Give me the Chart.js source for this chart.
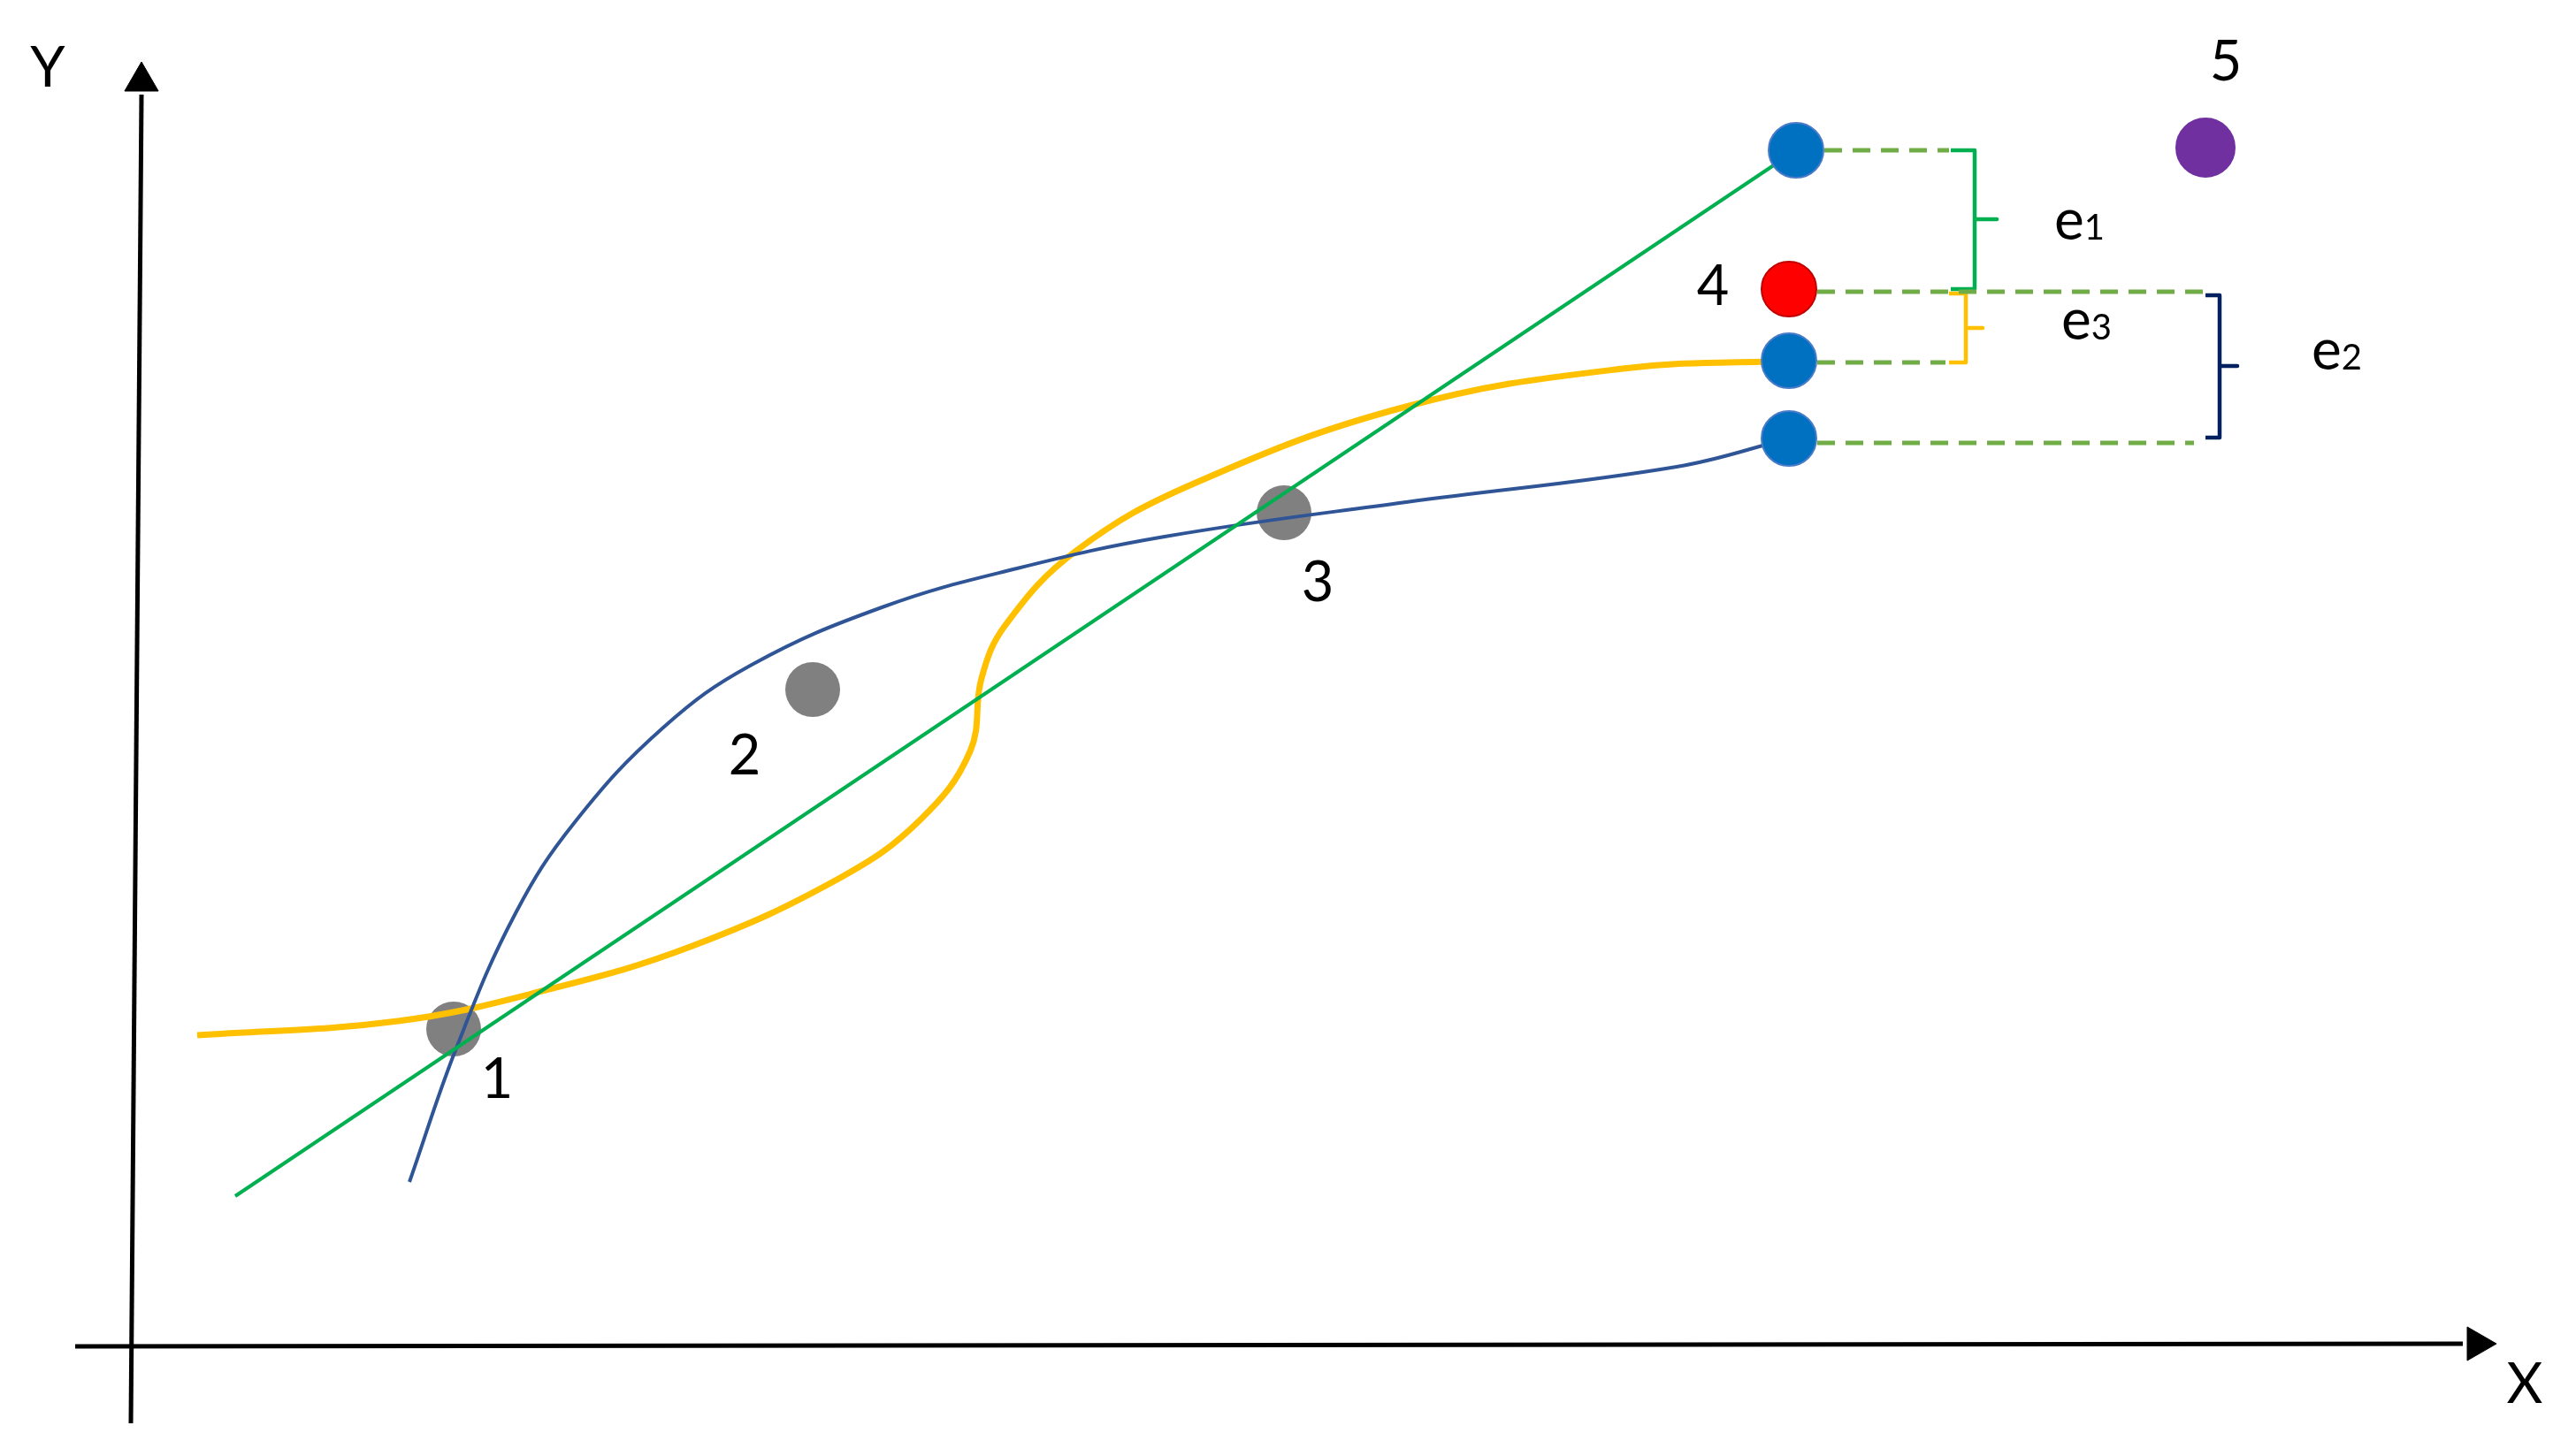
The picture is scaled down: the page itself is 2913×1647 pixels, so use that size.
<!DOCTYPE html>
<html>
<head>
<meta charset="utf-8">
<style>
  html, body { margin: 0; padding: 0; background: #fff; }
  #wrap { width: 2913px; height: 1647px; position: relative; }
</style>
<script src="https://cdn.jsdelivr.net/npm/chart.js@4.4.1/dist/chart.umd.min.js"></script>
</head>
<body>
<div id="wrap"><canvas id="chart"></canvas></div>
<script>
// Observed points 1, 2, 3
const obsX = [36.4, 77.0, 130.3];
const obsY = [35.8, 74.2, 94.2];

// Straight-line fit (green)
const lineX = [11.7, 188.2];
const lineY = [16.9, 135.2];

// Blue fitted curve
const blueX = [31.4, 36.8, 43.4, 50.1, 60.1, 70.1, 85.1, 100.1, 116.8, 144.1, 174.7, 187.4];
const blueY = [18.5, 33.9, 48.9, 59.2, 69.9, 77.0, 83.6, 87.9, 91.5, 95.4, 99.4, 102.6];

// Yellow fitted curve
const yellowX = [7.4, 30.1, 46.8, 63.4, 80.1, 89.1, 94.8, 96.1, 98.8, 106.8, 120.1, 144.1, 168.6, 187.4];
const yellowY = [35.1, 36.7, 40.2, 45.2, 52.9, 59.4, 67.2, 75.5, 81.5, 89.9, 97.5, 106.2, 110.5, 111.4];

// Predictions at point 4 (blue), true point 4 (red), point 5 (purple)
const predX = [188.2, 187.4, 187.4];
const predY = [135.2, 111.4, 102.6];
const trueX = [187.4];
const trueY = [119.5];
const nextX = [234.5];
const nextY = [135.5];

// Dashed guide lines: [x0, x1, y]
const guideX0 = [188.2, 187.4, 187.4, 187.4];
const guideX1 = [205.5, 234.5, 205.1, 233.2];
const guideY = [135.2, 119.2, 111.2, 102.1];

// Error brackets: x of spine, tick end, hook end, top, mid, bottom
const brX = [208.4, 207.4, 236.1];
const brTick = [210.9, 209.3, 238.1];
const brHook = [205.7, 205.5, 234.5];
const brTop = [135.2, 119.0, 118.8];
const brMid = [127.4, 115.1, 110.8];
const brBot = [119.5, 111.2, 102.7];
const brColor = ['#00B050', '#FFC000', '#002060'];

// Axes
const yAxisX = [-0.1, 1.1];
const yAxisY = [-8.8, 141.5];
const xAxisX = [-6.4, 263.6];
const xAxisY = [-0.1, 0.2];

// Text labels (baseline positions)
const labelText = ['1', '2', '3', '4', '5', 'Y', 'X'];
const labelX = [41.3, 69.3, 134.1, 178.8, 236.8, -9.5, 270.6];
const labelY = [28.0, 64.6, 84.2, 117.7, 143.1, 142.4, -6.5];

const errSub = ['1', '3', '2'];
const errX = [217.4, 218.2, 246.5];
const errY = [125.1, 113.8, 110.4];

const pts = (xs, ys) => xs.map((x, i) => ({ x: x, y: ys[i] }));

const datasets = [];

// colored prediction / true points on top
datasets.push({
    type: 'scatter',
    order: 0,
    data: pts(predX, predY).concat(pts(trueX, trueY), pts(nextX, nextY)),
    pointRadius: [31, 31, 31, 31, 33],
    backgroundColor: ['#0070C0', '#0070C0', '#0070C0', '#FF0000', '#7030A0'],
    borderColor: ['#4A7BC8', '#4A7BC8', '#4A7BC8', '#C00000', '#7030A0'],
    borderWidth: 2
});

// arrow heads
datasets.push({
    type: 'scatter',
    order: 1,
    data: [{ x: 1.1, y: 143.0 }, { x: 265.2, y: 0.2 }],
    pointStyle: 'triangle',
    rotation: [0, 90],
    pointRadius: 22,
    backgroundColor: '#000',
    borderColor: '#000',
    borderWidth: 1
});

datasets.push({
    type: 'line', order: 2, data: pts(lineX, lineY),
    borderColor: '#00B050', borderWidth: 4, pointRadius: 0, tension: 0
});
datasets.push({
    type: 'line', order: 2, data: pts(blueX, blueY),
    borderColor: '#2F5597', borderWidth: 4, pointRadius: 0, tension: 0.4
});
datasets.push({
    type: 'line', order: 2, data: pts(yellowX, yellowY),
    borderColor: '#FFC000', borderWidth: 7, pointRadius: 0, tension: 0.4
});

guideY.forEach((y, i) => {
    datasets.push({
        type: 'line', order: 3,
        data: [{ x: guideX0[i], y: y }, { x: guideX1[i], y: y }],
        borderColor: '#70AD47', borderWidth: 5, borderDash: [20, 12],
        pointRadius: 0
    });
});

brX.forEach((x, i) => {
    datasets.push({
        type: 'line', order: 3,
        data: [
            { x: brHook[i], y: brTop[i] },
            { x: x, y: brTop[i] },
            { x: x, y: brMid[i] },
            { x: brTick[i], y: brMid[i] },
            { x: x, y: brMid[i] },
            { x: x, y: brBot[i] },
            { x: brHook[i], y: brBot[i] }
        ],
        borderColor: brColor[i], borderWidth: 4.5, pointRadius: 0,
        tension: 0, borderJoinStyle: 'round'
    });
});

datasets.push({
    type: 'line', order: 4, data: pts(yAxisX, yAxisY),
    borderColor: '#000', borderWidth: 5, pointRadius: 0
});
datasets.push({
    type: 'line', order: 4, data: pts(xAxisX, xAxisY),
    borderColor: '#000', borderWidth: 5, pointRadius: 0
});

// gray observed points below the curves
datasets.push({
    type: 'scatter', order: 5, data: pts(obsX, obsY),
    pointRadius: 31, backgroundColor: '#808080', borderWidth: 0
});

datasets.forEach(d => { d.clip = false; });

const textPlugin = {
    id: 'textLabels',
    afterDatasetsDraw(chart) {
        const ctx = chart.ctx;
        const sx = chart.scales.x, sy = chart.scales.y;
        ctx.save();
        ctx.fillStyle = '#000';
        ctx.textBaseline = 'alphabetic';
        ctx.textAlign = 'center';
        ctx.font = '63px Lato';
        labelText.forEach((t, i) => {
            ctx.fillText(t, sx.getPixelForValue(labelX[i]), sy.getPixelForValue(labelY[i]));
        });
        ctx.textAlign = 'left';
        errSub.forEach((s, i) => {
            const px = sx.getPixelForValue(errX[i]);
            const py = sy.getPixelForValue(errY[i]);
            ctx.font = '64px Lato';
            ctx.fillText('e', px, py);
            const w = ctx.measureText('e').width;
            ctx.font = '40px Lato';
            ctx.fillText(s, px + w, py);
        });
        ctx.restore();
    }
};

new Chart(document.getElementById('chart').getContext('2d'), {
    data: { datasets: datasets },
    options: {
        responsive: true,
        maintainAspectRatio: false,
        devicePixelRatio: 1,
        animation: false,
        events: [],
        layout: { padding: 0, autoPadding: false },
        plugins: { legend: { display: false }, tooltip: { enabled: false } },
        scales: {
            x: { type: 'linear', min: -14.9, max: 276.4, display: false },
            y: { type: 'linear', min: -12.5, max: 152.2, display: false }
        }
    },
    plugins: [textPlugin]
});
</script>
</body>
</html>
